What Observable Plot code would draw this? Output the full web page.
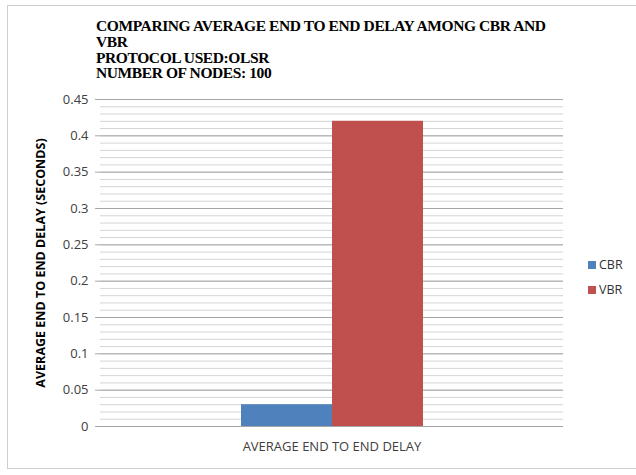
<!DOCTYPE html>
<html>
<head>
<meta charset="utf-8">
<script src="https://cdn.jsdelivr.net/npm/d3@7"></script>
<script src="https://cdn.jsdelivr.net/npm/@observablehq/plot@0.6"></script>
<style>
  html, body { margin: 0; padding: 0; background: #fff; }
  #wrap { position: relative; width: 636px; height: 475px; overflow: hidden; }
  #frame { position: absolute; left: 7px; top: 5px; width: 640px; height: 464px; border: 1px solid #cfcfcf; box-sizing: border-box; }
  #title { position: absolute; left: 96px; top: 18px; font-family: "Liberation Serif", serif; font-weight: bold; font-size: 15.5px; line-height: 15.8px; color: #000; letter-spacing: -0.4px; }
  #chart { position: absolute; left: 0; top: 0; }
  .leg { position: absolute; left: 588px; font-family: "Open Sans", sans-serif; font-size: 12.5px; color: #333; display: flex; align-items: center; }
  .sw { width: 8px; height: 8px; margin-right: 3px; }
</style>
</head>
<body>
<div id="wrap">
  <div id="frame"></div>
  <div id="chart"></div>
  <div id="title">COMPARING AVERAGE END TO END DELAY AMONG CBR AND<br>VBR<br>PROTOCOL USED:OLSR<br>NUMBER OF NODES: 100</div>
  <div id="legend"></div>
</div>
<script>
const category = "AVERAGE END TO END DELAY";
const series = ["CBR", "VBR"];
const values = [0.03, 0.42];
const colors = ["#4f81bd", "#c0504d"];
const yTicks = [0, 0.05, 0.1, 0.15, 0.2, 0.25, 0.3, 0.35, 0.4, 0.45];
const yTickLabels = ["0", "0.05", "0.1", "0.15", "0.2", "0.25", "0.3", "0.35", "0.4", "0.45"];
const minorTicks = d3.range(0, 0.4501, 0.01).map(v => +v.toFixed(2));

const data = series.map((s, i) => ({category, series: s, value: values[i]}));

const chart = Plot.plot({
  width: 636,
  height: 475,
  marginLeft: 100,
  marginRight: 73,
  marginTop: 99,
  marginBottom: 49,
  style: {fontFamily: "'Open Sans', sans-serif", fontSize: "12px", color: "#404040", background: "transparent"},
  fx: {domain: [category], padding: 0, label: null},
  x: {domain: series, paddingInner: 0, paddingOuter: 1.52, axis: null},
  y: {domain: [0, 0.45], label: null},
  color: {domain: series, range: colors},
  marks: [
    Plot.ruleY(minorTicks, {stroke: "#d4d4d4", strokeWidth: 1}),
    Plot.ruleY(yTicks, {stroke: "#a6a6a6", strokeWidth: 1}),
    Plot.barY(data, {fx: "category", x: "series", y: "value", fill: "series"}),
    Plot.ruleX([0], {frameAnchor: "left", stroke: "#a6a6a6"}),
    Plot.axisY({ticks: yTicks, tickFormat: (d) => yTickLabels[yTicks.indexOf(d)], tickSize: 5, tickPadding: 7, stroke: "#a6a6a6", fill: "#404040", fontSize: 13, label: null}),
    Plot.axisFx({anchor: "bottom", tickSize: 0, tickPadding: 15, fill: "#404040", fontSize: 13, label: null}),
    Plot.text(["AVERAGE END TO END DELAY (SECONDS)"], {frameAnchor: "left", dx: -60, rotate: -90, textAnchor: "middle", fontWeight: "bold", fontSize: 12.5, fill: "#000"})
  ]
});
document.getElementById("chart").appendChild(chart);

const leg = document.getElementById("legend");
series.forEach((s, i) => {
  const d = document.createElement("div");
  d.className = "leg";
  d.style.top = (256 + i * 25) + "px";
  d.innerHTML = `<div class="sw" style="background:${colors[i]}"></div>${s}`;
  leg.appendChild(d);
});
</script>
</body>
</html>
